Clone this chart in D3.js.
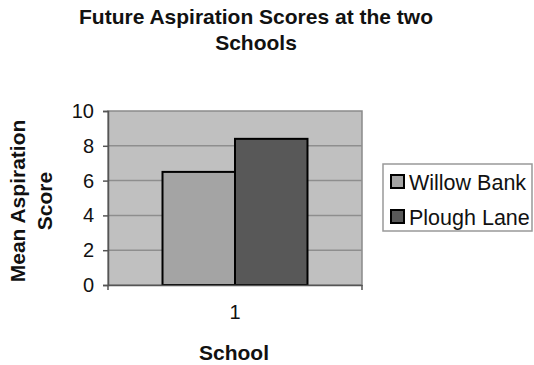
<!DOCTYPE html>
<html>
<head>
<meta charset="utf-8">
<script src="https://cdn.jsdelivr.net/npm/d3@7"></script>
<style>
  html, body { margin: 0; padding: 0; background: #fff; }
  svg { display: block; font-family: Arial, "Liberation Sans", sans-serif; }
</style>
</head>
<body>
<svg id="chart" width="534" height="365"></svg>
<script>
// Chart data
const categories = ["1"];
const seriesNames = ["Willow Bank", "Plough Lane"];
const willowBank = [6.5];
const ploughLane = [8.4];
const yTicks = [0, 2, 4, 6, 8, 10];
const seriesColors = ["#a4a4a4", "#585858"];

const svg = d3.select("#chart");
const m = { left: 108, right: 362, top: 111, bottom: 285 };

const x0 = d3.scaleBand().domain(categories).range([m.left, m.right]).paddingInner(0).paddingOuter(0.376);
const x1 = d3.scaleBand().domain(seriesNames).range([0, x0.bandwidth()]).padding(0);
const y = d3.scaleLinear().domain([0, 10]).range([m.bottom, m.top]);

// Plot area background
svg.append("rect")
  .attr("x", m.left).attr("y", m.top)
  .attr("width", m.right - m.left).attr("height", m.bottom - m.top)
  .attr("fill", "#c0c0c0").attr("stroke", "#8a8a8a").attr("stroke-width", 1.5);

// Horizontal gridlines
svg.append("g").selectAll("line").data(yTicks.filter(d => d > 0 && d < 10)).join("line")
  .attr("x1", m.left).attr("x2", m.right)
  .attr("y1", d => y(d)).attr("y2", d => y(d))
  .attr("stroke", "#8e8e8e").attr("stroke-width", 1.5);

// Bars
const table = categories.map((c, i) => ({ cat: c, vals: [willowBank[i], ploughLane[i]] }));
const groups = svg.append("g").selectAll("g").data(table).join("g")
  .attr("transform", d => `translate(${x0(d.cat)},0)`);
groups.selectAll("rect").data(d => d.vals.map((v, j) => ({ name: seriesNames[j], v, j }))).join("rect")
  .attr("x", d => x1(d.name))
  .attr("y", d => y(d.v))
  .attr("width", x1.bandwidth())
  .attr("height", d => y(0) - y(d.v))
  .attr("fill", d => seriesColors[d.j])
  .attr("stroke", "#000").attr("stroke-width", 2);

// Y axis
const yAxis = svg.append("g").attr("transform", `translate(${m.left},0)`)
  .call(d3.axisLeft(y).tickValues(yTicks).tickSize(5).tickPadding(9));
yAxis.select(".domain").attr("stroke", "#555").attr("stroke-width", 1.5);
yAxis.selectAll(".tick line").attr("stroke", "#555").attr("stroke-width", 1.5);
yAxis.selectAll("text").attr("font-size", 20).attr("fill", "#111")
  .attr("font-family", "Arial, 'Liberation Sans', sans-serif");

// X axis
const xAxis = svg.append("g").attr("transform", `translate(0,${m.bottom})`)
  .call(d3.axisBottom(x0).tickSize(0).tickPadding(20));
xAxis.select(".domain").attr("stroke", "#555").attr("stroke-width", 1.5);
xAxis.selectAll("text").attr("font-size", 20).attr("fill", "#111")
  .attr("font-family", "Arial, 'Liberation Sans', sans-serif");
svg.append("g").selectAll("line").data([m.left, m.right]).join("line")
  .attr("x1", d => d).attr("x2", d => d)
  .attr("y1", m.bottom).attr("y2", m.bottom + 5)
  .attr("stroke", "#555").attr("stroke-width", 1.5);

// Title
const title = svg.append("text").attr("text-anchor", "middle")
  .attr("font-size", 21).attr("font-weight", "bold").attr("fill", "#111");
title.append("tspan").attr("x", 256).attr("y", 24).text("Future Aspiration Scores at the two");
title.append("tspan").attr("x", 256).attr("y", 50).text("Schools");

// Axis titles
svg.append("text").attr("x", 234).attr("y", 360).attr("text-anchor", "middle")
  .attr("font-size", 21).attr("font-weight", "bold").attr("fill", "#111").text("School");
const yt = svg.append("text").attr("transform", "translate(0,201) rotate(-90)")
  .attr("text-anchor", "middle").attr("font-size", 21).attr("font-weight", "bold").attr("fill", "#111");
yt.append("tspan").attr("x", 0).attr("y", 25).text("Mean Aspiration");
yt.append("tspan").attr("x", 0).attr("y", 52).text("Score");

// Legend
const lg = svg.append("g");
lg.append("rect").attr("x", 383).attr("y", 164).attr("width", 149).attr("height", 67)
  .attr("fill", "#fff").attr("stroke", "#999").attr("stroke-width", 1.5);
const items = lg.selectAll("g").data(seriesNames).join("g")
  .attr("transform", (d, i) => `translate(391,${182 + i * 35})`);
items.append("rect").attr("x", 0).attr("y", -7).attr("width", 13).attr("height", 13)
  .attr("fill", (d, i) => seriesColors[i]).attr("stroke", "#000").attr("stroke-width", 2);
items.append("text").attr("x", 18).attr("y", 7.5).attr("font-size", 21.5).attr("fill", "#111").text(d => d);
</script>
</body>
</html>
